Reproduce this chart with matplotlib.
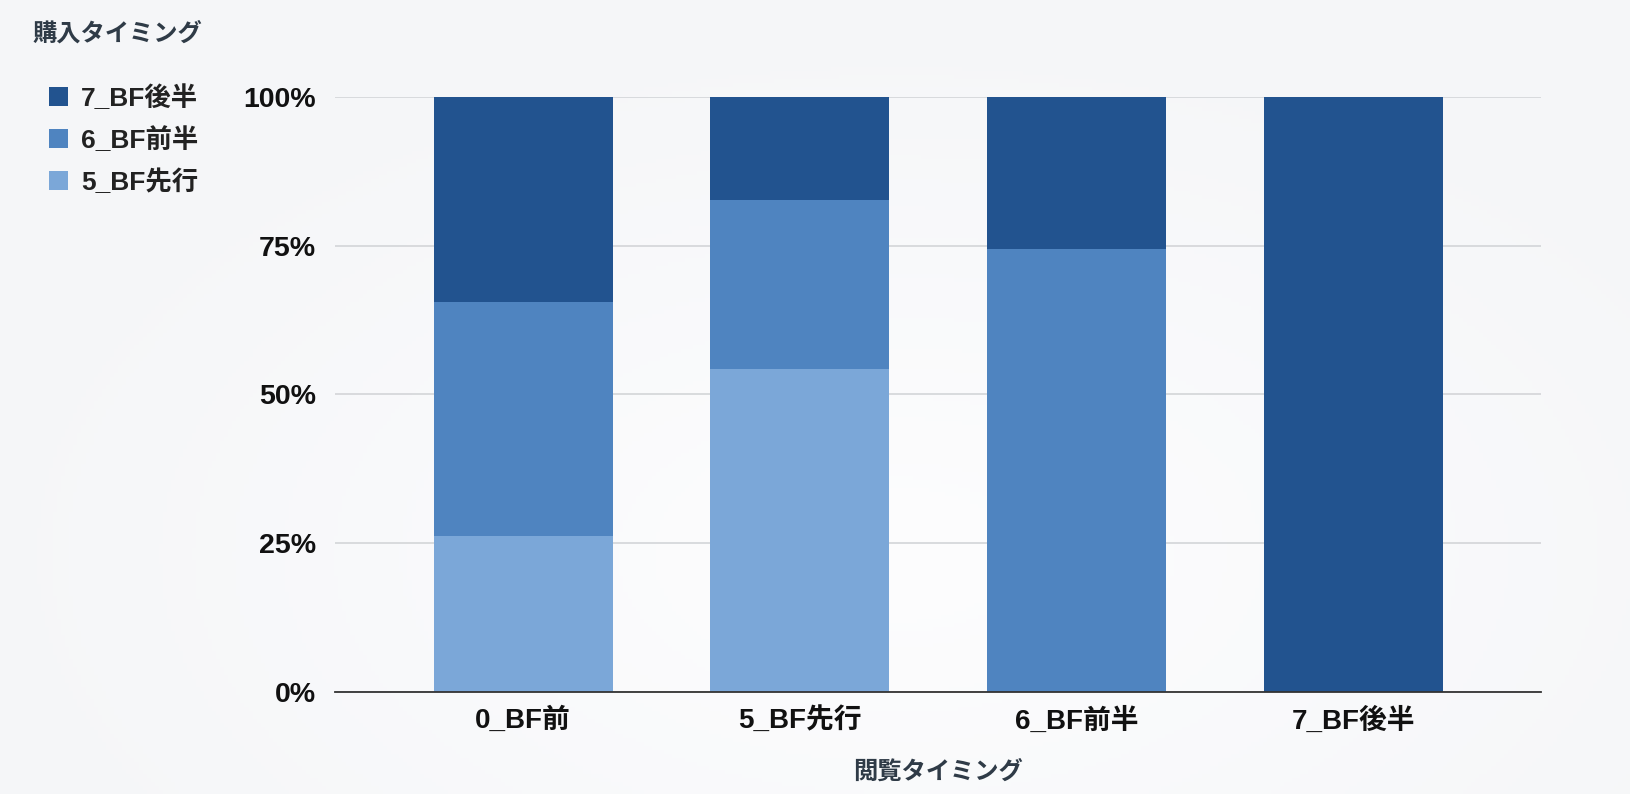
import matplotlib
import matplotlib.pyplot as plt
import numpy as np
from matplotlib.patches import Patch
from matplotlib.ticker import FixedLocator, PercentFormatter

matplotlib.use("Agg")

plt.rcParams["font.family"] = ["Liberation Sans", "Noto Sans CJK JP", "DejaVu Sans"]

# viewing timing (x categories)
categories = ["0_BF前", "5_BF先行", "6_BF前半", "7_BF後半"]

# purchase timing shares (%), stacked bottom to top
share_5_bf_senko = [26.2, 54.2, 0.0, 0.0]
share_6_bf_zenhan = [39.4, 28.4, 74.5, 0.0]
share_7_bf_kohan = [34.4, 17.4, 25.5, 100.0]

series_names = ["5_BF先行", "6_BF前半", "7_BF後半"]
colors = ["#7ba7d8", "#4f84c0", "#22538f"]

fig = plt.figure(figsize=(16.3, 7.94), dpi=100)
fig.patch.set_facecolor("#f5f6f8")

# soft light background, whiter towards the lower middle
bg = fig.add_axes([0, 0, 1, 1], zorder=-10)
yy, xx = np.mgrid[0:1:200j, 0:1:400j]
dist = np.sqrt(((xx - 0.55) / 0.6) ** 2 + ((yy - 0.3) / 0.7) ** 2)
shade = np.clip(dist, 0, 1)
top_col = np.array([0.961, 0.965, 0.973])
mid_col = np.array([0.992, 0.992, 0.996])
img = mid_col + (top_col - mid_col) * shade[..., None]
bg.imshow(img, extent=[0, 1, 0, 1], origin="lower", aspect="auto")
bg.axis("off")

ax = fig.add_axes([0.2055, 0.1285, 0.74, 0.7495])
ax.set_facecolor("none")

x = range(len(categories))
bottom = [0.0] * len(categories)
for name, vals, col in zip(series_names, [share_5_bf_senko, share_6_bf_zenhan, share_7_bf_kohan], colors):
    ax.bar(x, vals, bottom=bottom, width=0.647, color=col, label=name, zorder=3)
    bottom = [b + v for b, v in zip(bottom, vals)]

ax.set_xlim(-0.68, 3.68)
ax.set_ylim(0, 100)
ax.yaxis.set_major_locator(FixedLocator([0, 25, 50, 75, 100]))
ax.yaxis.set_major_formatter(PercentFormatter(decimals=0))
ax.grid(axis="y", color="#d3d5d8", linewidth=1.2, zorder=0)
ax.grid(axis="x", visible=False)
for s in ["top", "right", "left"]:
    ax.spines[s].set_visible(False)
ax.spines["bottom"].set_color("#333333")
ax.spines["bottom"].set_linewidth(1.3)
ax.spines["bottom"].set_zorder(4)
ax.tick_params(axis="both", length=0, labelcolor="#111111")
ax.tick_params(axis="y", pad=13.5, labelsize=20.5)
ax.tick_params(axis="x", pad=11, labelsize=20)
ax.set_xticks(list(x))
ax.set_xticklabels(categories, fontweight="bold")
for lab in ax.get_yticklabels():
    lab.set_fontweight("bold")

ax.set_xlabel("閲覧タイミング", fontsize=17.5, fontweight="bold", color="#2f3b47", labelpad=19)

# legend in the top-left corner, darkest series first
fig.text(0.020, 0.958, "購入タイミング", fontsize=17.5, fontweight="bold", color="#2f3b47", va="center")
handles = [Patch(facecolor=c, edgecolor="none") for c in colors[::-1]]
leg = fig.legend(handles, series_names[::-1], loc="upper left", bbox_to_anchor=(0.030, 0.893),
                 frameon=False, handlelength=0.72, handleheight=0.72, handletextpad=0.5,
                 labelspacing=0.62, borderaxespad=0, borderpad=0,
                 prop={"size": 19, "weight": "bold"})
for t in leg.get_texts():
    t.set_color("#222222")

fig.savefig("out.png", dpi=100, facecolor=fig.get_facecolor())
